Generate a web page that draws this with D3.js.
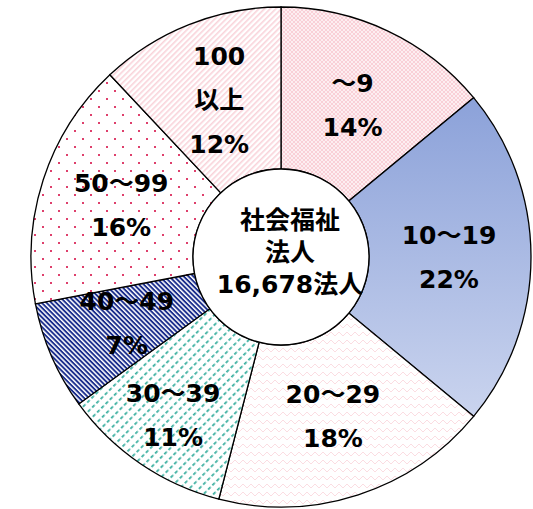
<!DOCTYPE html>
<html>
<head>
<meta charset="utf-8">
<script src="https://cdn.jsdelivr.net/npm/d3@7"></script>
<style>
  html, body { margin: 0; padding: 0; background: #fff; }
  svg text { font-family: "DejaVu Sans", "Noto Sans CJK JP", sans-serif; font-weight: bold; fill: #000; }
</style>
</head>
<body>
<svg id="chart" width="533" height="509"></svg>
<script>
// employee size classes of 社会福祉法人
let categories = ['～9', '10～19', '20～29', '30～39', '40～49', '50～99', '100\n以上']
let shares = [14, 22, 18, 11, 7, 16, 12]
let centerLines = ['社会福祉', '法人', '16,678法人']

let svg = d3.select('#chart')
let cx = 281, cy = 257
let outerR = 250, innerR = 88

let defs = svg.append('defs')

// 10～19 gradient (coords relative to pie centre)
let grad = defs.append('linearGradient')
    .attr('id', 'blueGrad')
    .attr('gradientUnits', 'userSpaceOnUse')
    .attr('x1', 0).attr('y1', -162).attr('x2', 0).attr('y2', 185)
grad.append('stop').attr('offset', 0).attr('stop-color', '#8ba1d9')
grad.append('stop').attr('offset', 1).attr('stop-color', '#cfd8f0')

// ～9 checker
let pCheck = defs.append('pattern').attr('id', 'pCheck')
    .attr('patternUnits', 'userSpaceOnUse').attr('width', 4).attr('height', 4)
pCheck.append('rect').attr('width', 4).attr('height', 4).attr('fill', '#fdeef1')
pCheck.append('rect').attr('width', 2).attr('height', 2).attr('fill', '#f9d0d7')
pCheck.append('rect').attr('x', 2).attr('y', 2).attr('width', 2).attr('height', 2).attr('fill', '#f9d0d7')

// 20～29 wave
let pWave = defs.append('pattern').attr('id', 'pWave')
    .attr('patternUnits', 'userSpaceOnUse').attr('width', 8).attr('height', 8)
pWave.append('rect').attr('width', 8).attr('height', 8).attr('fill', '#fff')
pWave.append('path').attr('d', 'M0,5 L2,3 L4,5 L6,7 L8,5')
    .attr('fill', 'none').attr('stroke', '#fbdde2').attr('stroke-width', 1)

// 30～39 teal dashed diagonals
let pTeal = defs.append('pattern').attr('id', 'pTeal')
    .attr('patternUnits', 'userSpaceOnUse').attr('width', 6).attr('height', 7)
    .attr('patternTransform', 'rotate(-45)')
pTeal.append('rect').attr('width', 6).attr('height', 7).attr('fill', '#fff')
pTeal.append('rect').attr('width', 3.5).attr('height', 1.8).attr('fill', '#3fb1a2')

// 40～49 navy diagonals
let pNavy = defs.append('pattern').attr('id', 'pNavy')
    .attr('patternUnits', 'userSpaceOnUse').attr('width', 4).attr('height', 3.4)
    .attr('patternTransform', 'rotate(45)')
pNavy.append('rect').attr('width', 4).attr('height', 3.4).attr('fill', '#fff')
pNavy.append('rect').attr('width', 4).attr('height', 1.9).attr('fill', '#1a2d8c')

// 50～99 dots
let pDots = defs.append('pattern').attr('id', 'pDots')
    .attr('patternUnits', 'userSpaceOnUse').attr('width', 16).attr('height', 16)
pDots.append('rect').attr('width', 16).attr('height', 16).attr('fill', '#fff')
pDots.append('rect').attr('x', 1).attr('y', 1).attr('width', 2).attr('height', 2).attr('fill', '#de3f6c')
pDots.append('rect').attr('x', 9).attr('y', 9).attr('width', 2).attr('height', 2).attr('fill', '#de3f6c')

// 100以上 pink stripes
let pStripe = defs.append('pattern').attr('id', 'pStripe')
    .attr('patternUnits', 'userSpaceOnUse').attr('width', 4).attr('height', 4)
    .attr('patternTransform', 'rotate(-45)')
pStripe.append('rect').attr('width', 4).attr('height', 4).attr('fill', '#fff')
pStripe.append('rect').attr('width', 4).attr('height', 1.6).attr('fill', '#f9d3da')

let fills = ['url(#pCheck)', 'url(#blueGrad)', 'url(#pWave)', 'url(#pTeal)', 'url(#pNavy)', 'url(#pDots)', 'url(#pStripe)']

let pie = d3.pie().sort(null).value(d => d)
let arcs = pie(shares)

let arc = d3.arc().innerRadius(innerR).outerRadius(outerR)
let labelArc = d3.arc().innerRadius(168).outerRadius(168)

let g = svg.append('g').attr('transform', 'translate(' + cx + ',' + cy + ')')

g.selectAll('path.slice')
    .data(arcs)
    .enter()
    .append('path')
    .attr('class', 'slice')
    .attr('d', arc)
    .attr('fill', (d, i) => fills[i])
    .attr('stroke', '#000')
    .attr('stroke-width', 1.3)

// white hole
g.append('circle')
    .attr('r', innerR)
    .attr('fill', '#fff')
    .attr('stroke', '#000')
    .attr('stroke-width', 1.3)

// labels
let lineGap = 44
let radialNudge = { 3: 24 }
arcs.forEach((d, i) => {
    let lines = categories[i].split('\n').concat([shares[i] + '%'])
    let c = labelArc.centroid(d)
    if (radialNudge[i]) {
        let a = (d.startAngle + d.endAngle) / 2
        c = [c[0] + Math.sin(a) * radialNudge[i], c[1] - Math.cos(a) * radialNudge[i]]
    }
    let top = c[1] - (lines.length - 1) * lineGap / 2
    lines.forEach((t, k) => {
        g.append('text')
            .attr('x', c[0])
            .attr('y', top + k * lineGap)
            .attr('text-anchor', 'middle')
            .attr('dominant-baseline', 'central')
            .attr('font-size', 25)
            .text(t)
    })
})

// center text
centerLines.forEach((t, k) => {
    g.append('text')
        .attr('x', 9)
        .attr('y', -37 + k * 32)
        .attr('text-anchor', 'middle')
        .attr('dominant-baseline', 'central')
        .attr('font-size', 25)
        .text(t)
})
</script>
</body>
</html>
